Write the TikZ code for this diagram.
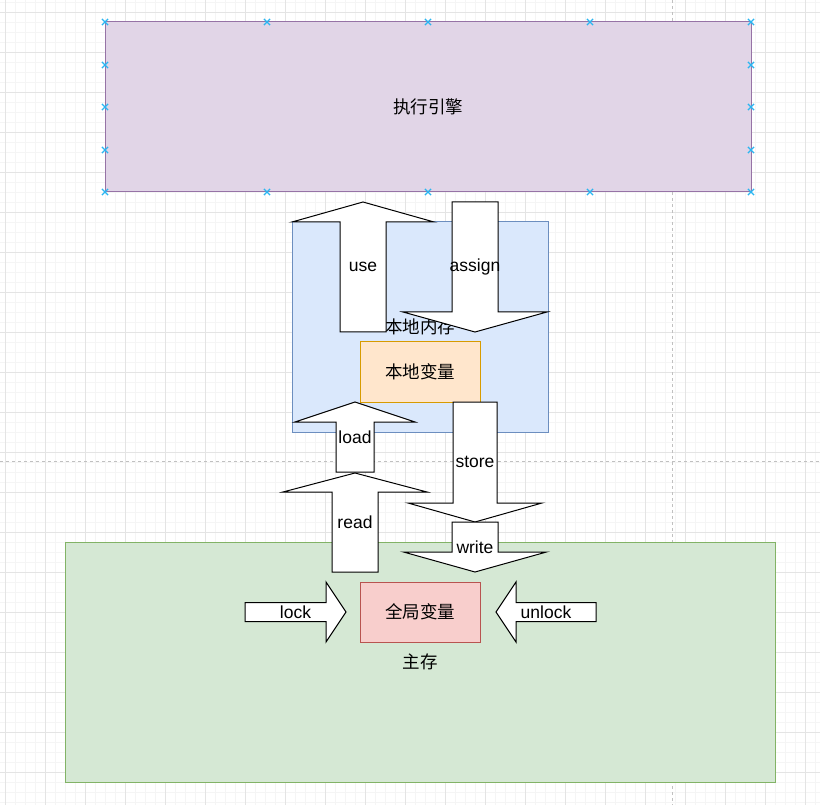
\documentclass[tikz,border=0pt]{standalone}
\usepackage{fontspec}
\setmainfont{Liberation Sans}
\newfontfamily\cjk{Noto Sans CJK SC}
\usetikzlibrary{shapes.misc}
\definecolor{gridminor}{HTML}{F5F5F5}
\definecolor{gridmajor}{HTML}{E4E4E4}
\definecolor{guidegray}{HTML}{C0C0C0}
\definecolor{enginefill}{HTML}{E1D5E7}
\definecolor{enginedraw}{HTML}{9673A6}
\definecolor{localfill}{HTML}{DAE8FC}
\definecolor{localdraw}{HTML}{6C8EBF}
\definecolor{varfill}{HTML}{FFE6CC}
\definecolor{vardraw}{HTML}{D79B00}
\definecolor{mainfill}{HTML}{D5E8D4}
\definecolor{maindraw}{HTML}{82B366}
\definecolor{globalfill}{HTML}{F8CECC}
\definecolor{globaldraw}{HTML}{B85450}
\definecolor{handleblue}{HTML}{29B6F2}

% block arrow, vertical: name, x, tip y, head base y, tail y, half shaft, half head, text
\newcommand{\vblock}[8]{%
  \draw[blockarr] ({#2-#7},#4) -- (#2,#3) -- ({#2+#7},#4) -- ({#2+#6},#4)
    -- ({#2+#6},#5) -- ({#2-#6},#5) -- ({#2-#6},#4) -- cycle;
  \node[arrtext] (#1) at (#2,{(#3+#5)/2}) {#8};}
% block arrow, horizontal: name, y, tip x, head base x, tail x, half shaft, half head, text
\newcommand{\hblock}[8]{%
  \draw[blockarr] (#4,{#2-#7}) -- (#3,#2) -- (#4,{#2+#7}) -- (#4,{#2+#6})
    -- (#5,{#2+#6}) -- (#5,{#2-#6}) -- (#4,{#2-#6}) -- cycle;
  \node[arrtext] (#1) at ({(#3+#5)/2},#2) {#8};}

\begin{document}
\begin{tikzpicture}[
  x=1pt, y=-1pt,
  font=\fontsize{17.5}{21}\selectfont,
  box/.style={rectangle, line width=1pt, inner sep=0pt, align=center},
  blockarr/.style={draw=black, fill=white, line width=1pt, line join=miter},
  arrtext/.style={inner sep=0pt},
  handle/.style={cross out, draw=handleblue, line width=1.2pt,
                 minimum size=5pt, inner sep=0pt}
]
\useasboundingbox (0,0) rectangle (820,805);
\fill[white] (0,0) rectangle (820,805);

% grid
\foreach \gx in {5,15,...,815} \draw[gridminor, line width=0.8pt] (\gx,0) -- (\gx,805);
\foreach \gy in {2,12,...,802} \draw[gridminor, line width=0.8pt] (0,\gy) -- (820,\gy);
\foreach \gx in {5,45,...,805} \draw[gridmajor, line width=0.8pt] (\gx,0) -- (\gx,805);
\foreach \gy in {12,52,...,792} \draw[gridmajor, line width=0.8pt] (0,\gy) -- (820,\gy);
\draw[guidegray, line width=0.8pt, dash pattern=on 3pt off 3pt] (672,0) -- (672,805);
\draw[guidegray, line width=0.8pt, dash pattern=on 3pt off 3pt] (0,461) -- (820,461);

% containers
\node[box, fill=enginefill, draw=enginedraw, minimum width=646pt, minimum height=170pt]
  (engine) at (428,107) {\cjk 执行引擎};
\node[box, fill=localfill, draw=localdraw, minimum width=256pt, minimum height=210pt]
  (local) at (420,327) {\cjk 本地内存};
\node[box, fill=varfill, draw=vardraw, minimum width=120pt, minimum height=60pt]
  (localvar) at (420,372) {\cjk 本地变量};
\node[box, fill=mainfill, draw=maindraw, minimum width=710pt, minimum height=240pt]
  (main) at (420,662) {\cjk 主存};
\node[box, fill=globalfill, draw=globaldraw, minimum width=120pt, minimum height=60pt]
  (globalvar) at (420,612) {\cjk 全局变量};

% operations
\vblock{use}{363}{202}{222}{332}{23}{71}{use}
\vblock{assign}{475}{332}{312}{202}{23}{72}{assign}
\vblock{load}{355}{402}{422}{472}{19}{60}{load}
\vblock{read}{355}{473}{492}{572}{23}{72}{read}
\vblock{store}{475}{522}{503}{402}{22}{67}{store}
\vblock{write}{475}{572}{552}{522}{23}{71.5}{write}
\hblock{lock}{612}{346}{326}{245}{9.5}{30}{lock}
\hblock{unlock}{612}{496}{516}{596}{9.5}{30}{unlock}

% selection handles
\foreach \hx in {105,267,428,590,751} {
  \node[handle] (ht\hx) at (\hx,22) {};
  \node[handle] (hb\hx) at (\hx,192) {};
}
\foreach \hy in {65,107,150} {
  \node[handle] (hl\hy) at (105,\hy) {};
  \node[handle] (hr\hy) at (751,\hy) {};
}
\end{tikzpicture}
\end{document}
